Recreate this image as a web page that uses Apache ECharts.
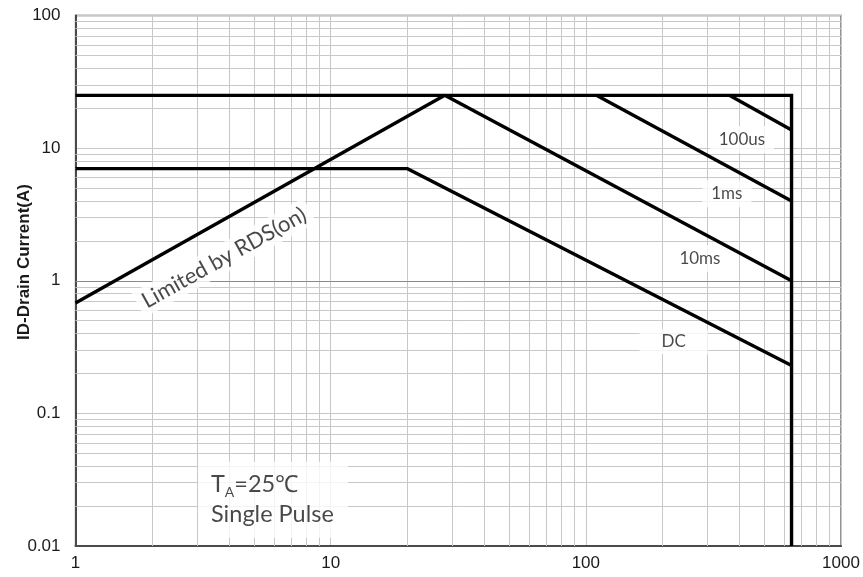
<!DOCTYPE html>
<html>
<head>
<meta charset="utf-8">
<script src="https://cdn.jsdelivr.net/npm/echarts@6/dist/echarts.min.js"></script>
<style>
html, body { margin: 0; padding: 0; background: #fff; }
#chart { width: 863px; height: 577px; }
</style>
</head>
<body>
<div id="chart"></div>
<script>
// Safe operating area (log-log): drain current vs drain-source voltage
const xTickLabels = ['1', '10', '100', '1000'];
const yTickLabels = ['0.01', '0.1', '1', '10', '100'];

// Minor grid positions (2..9 of each decade)
const xMinorGrid = [2, 3, 4, 5, 6, 7, 8, 9, 20, 30, 40, 50, 60, 70, 80, 90, 200, 300, 400, 500, 600, 700, 800, 900];
const yMinorGrid = [0.02, 0.03, 0.04, 0.05, 0.06, 0.07, 0.08, 0.09, 0.2, 0.3, 0.4, 0.5, 0.6, 0.7, 0.8, 0.9,
                    2, 3, 4, 5, 6, 7, 8, 9, 20, 30, 40, 50, 60, 70, 80, 90];

// Boundary curves [V, A]
const packageLimit = [[1, 25], [640, 25], [640, 0.01]];
const rdsOnLimit   = [[1, 0.68], [28, 25]];
const dcLimit      = [[1, 7], [20, 7], [640, 0.23]];
const pulse10ms    = [[28, 25], [640, 1]];
const pulse1ms     = [[110, 25], [640, 4]];
const pulse100us   = [[365, 25], [640, 13.7]];

const curveNames = ['100us', '1ms', '10ms', 'DC'];
const rdsText = 'Limited by RDS(on)';
const conditionText = ['T', 'A', '=25℃', 'Single Pulse'];

const chart = echarts.init(document.getElementById('chart'), null, { renderer: 'canvas' });

const labelFont = 'Lato, "Open Sans", sans-serif';
const axisFont = '"Liberation Sans", Arial, sans-serif';
const ink = '#1a1a1a';

function pickLabel(list, v) {
  const hit = list.find(s => Math.abs(Math.log10(+s) - Math.log10(v)) < 1e-6);
  return hit === undefined ? '' : hit;
}

function boundary(data) {
  return {
    type: 'line',
    data: data,
    showSymbol: false,
    symbol: 'none',
    silent: true,
    z: 5,
    lineStyle: { color: '#000', width: 3.4, cap: 'butt', join: 'miter' }
  };
}

const curveLabelBase = {
  show: true,
  position: 'inside',
  fontFamily: labelFont,
  fontSize: 17,
  color: ink,
  backgroundColor: '#fff',
  padding: [5, 9]
};

const option = {
  animation: false,
  backgroundColor: '#fff',
  grid: {
    left: 75.5, right: 22, top: 15.5, bottom: 31,
    containLabel: false,
    outerBoundsMode: 'none',
    show: true,
    borderColor: '#5a5a5a',
    borderWidth: 1.3
  },
  xAxis: {
    type: 'log',
    logBase: 10,
    min: 1,
    max: 1000,
    axisLine: { show: true, lineStyle: { color: '#4a4a4a', width: 2 } },
    axisTick: { show: false },
    axisLabel: {
      margin: 9,
      fontFamily: axisFont,
      fontSize: 17,
      color: ink,
      formatter: v => pickLabel(xTickLabels, v)
    },
    splitLine: { show: true, lineStyle: { color: '#c8c8c8', width: 1 } }
  },
  yAxis: {
    type: 'log',
    logBase: 10,
    min: 0.01,
    max: 100,
    axisLine: { show: true, lineStyle: { color: '#4a4a4a', width: 2 } },
    axisTick: { show: false },
    axisLabel: {
      margin: 15,
      fontFamily: axisFont,
      fontSize: 17,
      color: ink,
      formatter: v => pickLabel(yTickLabels, v)
    },
    splitLine: { show: true, lineStyle: { color: '#c8c8c8', width: 1 } }
  },
  graphic: [{
    type: 'text',
    x: 24,
    y: 262,
    rotation: Math.PI / 2,
    silent: true,
    style: {
      text: 'ID-Drain Current(A)',
      font: 'bold 17px ' + axisFont,
      fill: ink,
      align: 'center',
      verticalAlign: 'middle'
    }
  }],
  series: [
    // minor grid + horizontal axis crossing at 1 A
    {
      type: 'line',
      data: [],
      silent: true,
      z: 1,
      markLine: {
        z: 1,
        silent: true,
        symbol: ['none', 'none'],
        label: { show: false },
        animation: false,
        lineStyle: { color: '#c8c8c8', width: 1, type: 'solid' },
        data: xMinorGrid.map(v => ({ xAxis: v }))
          .concat(yMinorGrid.map(v => ({ yAxis: v })))
          .concat([{ yAxis: 1, lineStyle: { color: '#8a8a8a', width: 1.2, type: 'solid' } }])
      }
    },
    // text annotations with white boxes over the grid
    {
      type: 'scatter',
      symbolSize: 0,
      silent: true,
      z: 3,
      data: [
        { value: [409, 11.6], label: Object.assign({}, curveLabelBase, { formatter: curveNames[0] }) },
        { value: [357, 4.53], label: Object.assign({}, curveLabelBase, { formatter: curveNames[1] }) },
        { value: [280, 1.47], label: Object.assign({}, curveLabelBase, { formatter: curveNames[2] }) },
        { value: [221, 0.347], label: Object.assign({}, curveLabelBase, { formatter: curveNames[3], padding: [4, 22] }) },
        {
          value: [3.82, 1.49],
          label: {
            show: true,
            position: 'inside',
            formatter: rdsText,
            rotate: 29,
            fontFamily: labelFont,
            fontSize: 22,
            color: ink,
            backgroundColor: '#fff',
            padding: [3, 6]
          }
        },
        {
          value: [3.02, 0.0223],
          label: {
            show: true,
            position: 'inside',
            align: 'left',
            verticalAlign: 'middle',
            backgroundColor: '#fff',
            padding: [8, 14, 8, 13],
            formatter: '{t|' + conditionText[0] + '}{s|' + conditionText[1] + '}{t|' + conditionText[2] + '}\n{t|' + conditionText[3] + '}',
            rich: {
              t: { fontFamily: labelFont, fontSize: 23.5, color: ink, lineHeight: 30 },
              s: { fontFamily: labelFont, fontSize: 14, color: ink, lineHeight: 30, verticalAlign: 'bottom' }
            }
          }
        }
      ]
    },
    boundary(packageLimit),
    boundary(rdsOnLimit),
    boundary(dcLimit),
    boundary(pulse10ms),
    boundary(pulse1ms),
    boundary(pulse100us)
  ]
};

chart.setOption(option);
</script>
</body>
</html>
